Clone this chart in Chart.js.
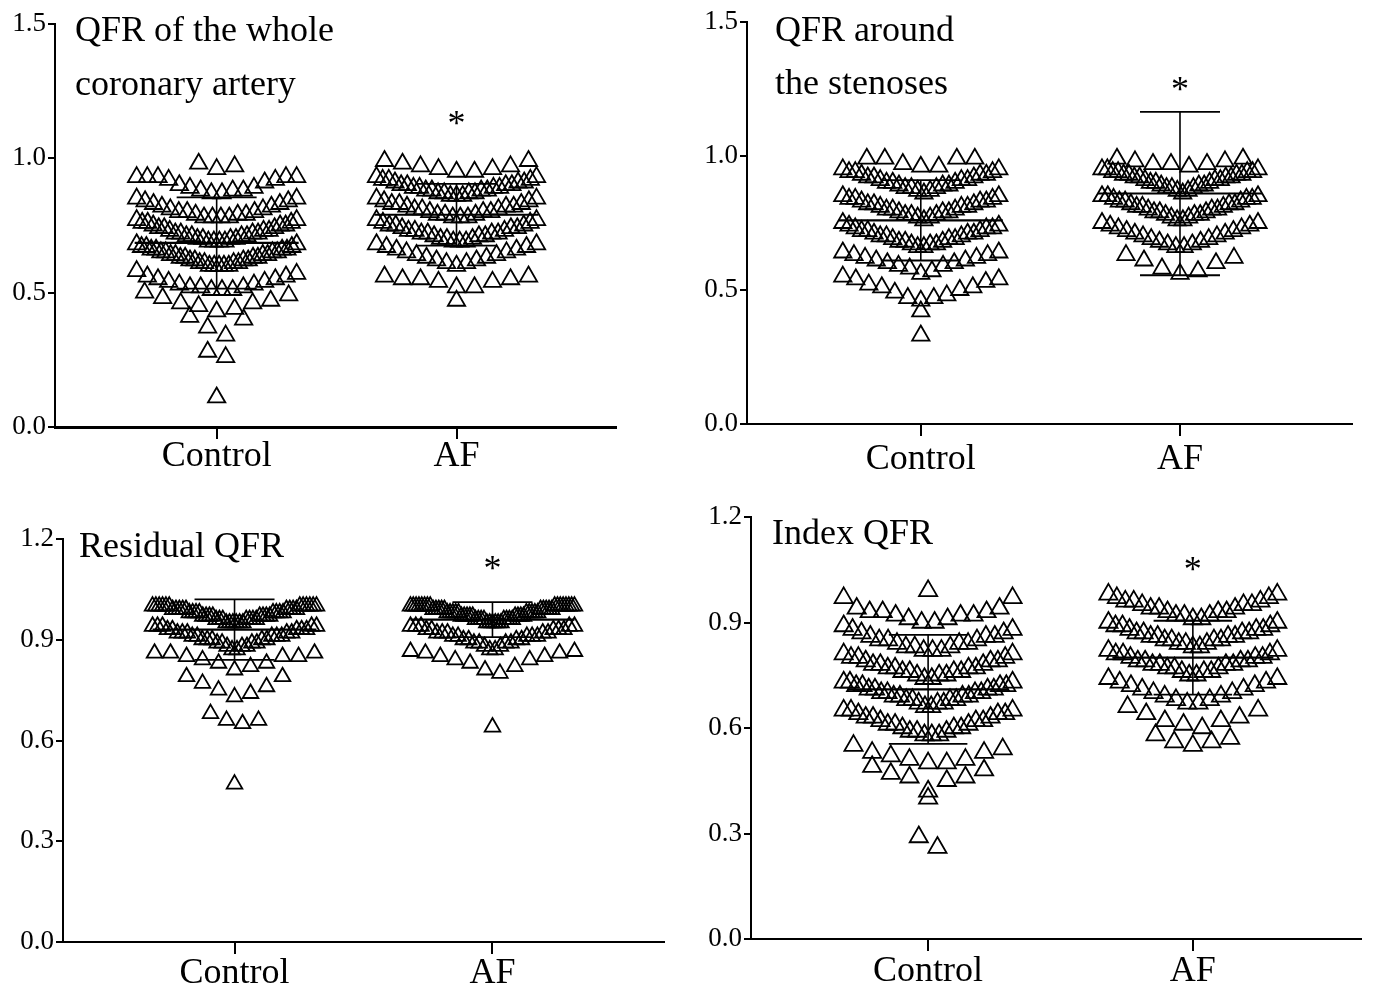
<!DOCTYPE html>
<html>
<head>
<meta charset="utf-8">
<title>QFR scatter plots</title>
<script src="https://cdn.jsdelivr.net/npm/chart.js@4.4.1/dist/chart.umd.min.js"></script>
<style>
  html, body { margin: 0; padding: 0; background: #fff; }
  #wrap { position: relative; width: 1373px; height: 987px; overflow: hidden; }
  canvas { position: absolute; }
</style>
</head>
<body>
<div id="wrap">
  <canvas id="whole" width="686" height="493" style="left:0;top:0"></canvas>
  <canvas id="stenosis" width="687" height="493" style="left:686px;top:0"></canvas>
  <canvas id="residual" width="686" height="494" style="left:0;top:493px"></canvas>
  <canvas id="index" width="687" height="494" style="left:686px;top:493px"></canvas>
</div>
<script>
const categories = ['Control', 'AF'];

// QFR of the whole coronary artery
const wholeControl = [
  0.98, 0.97, 0.96,
  0.93, 0.93, 0.93, 0.93, 0.93, 0.92, 0.92, 0.91, 0.90, 0.89, 0.89, 0.88, 0.88, 0.88, 0.87, 0.87,
  0.85, 0.85, 0.84, 0.84, 0.83, 0.83, 0.82, 0.82, 0.81, 0.81, 0.80, 0.80, 0.80, 0.79, 0.79, 0.79, 0.78, 0.78, 0.78, 0.78,
  0.77, 0.77, 0.76, 0.76, 0.76, 0.75, 0.75, 0.75, 0.74, 0.74, 0.74, 0.73, 0.73, 0.73, 0.72, 0.72, 0.72, 0.72,
  0.71, 0.71, 0.71, 0.71, 0.70, 0.70, 0.70, 0.70, 0.69, 0.69, 0.69, 0.69,
  0.68, 0.68, 0.67, 0.67, 0.67, 0.66, 0.66, 0.66, 0.66, 0.65, 0.65, 0.65, 0.65, 0.64, 0.64, 0.64, 0.64,
  0.63, 0.63, 0.63, 0.63, 0.62, 0.62, 0.62, 0.62, 0.61, 0.61, 0.61, 0.61, 0.60, 0.60, 0.60, 0.60, 0.60,
  0.58, 0.57, 0.56, 0.56, 0.55, 0.55, 0.54, 0.54, 0.53, 0.53, 0.52, 0.52, 0.52, 0.51, 0.51, 0.51,
  0.50, 0.49, 0.48, 0.47, 0.46, 0.46, 0.45, 0.44, 0.43,
  0.41, 0.40, 0.37, 0.34, 0.28, 0.26, 0.11
];
const wholeAF = [
  0.99, 0.99, 0.98, 0.97, 0.97, 0.96, 0.96, 0.95, 0.95,
  0.93, 0.93, 0.92, 0.92, 0.92, 0.91, 0.91, 0.91, 0.90, 0.90, 0.90, 0.90, 0.89, 0.89, 0.89, 0.89,
  0.88, 0.88, 0.88, 0.88, 0.87, 0.87, 0.87, 0.87, 0.86, 0.86, 0.86,
  0.85, 0.85, 0.84, 0.84, 0.83, 0.83, 0.83, 0.82, 0.82, 0.82, 0.81, 0.81, 0.81, 0.80, 0.80, 0.80,
  0.79, 0.79, 0.79, 0.78, 0.78, 0.78, 0.77, 0.77,
  0.76, 0.76, 0.75, 0.75, 0.75, 0.74, 0.74, 0.74, 0.73, 0.73, 0.73, 0.72, 0.72, 0.72, 0.72,
  0.71, 0.71, 0.71, 0.70, 0.70, 0.70, 0.69, 0.69, 0.69,
  0.68, 0.68, 0.67, 0.67, 0.66, 0.66, 0.65, 0.65, 0.64, 0.64, 0.63, 0.63, 0.62, 0.62, 0.61, 0.61, 0.60,
  0.56, 0.56, 0.55, 0.55, 0.55, 0.54, 0.54, 0.52, 0.52, 0.47
];
const wholeMean = [0.685, 0.79];
const wholeSD = [0.17, 0.115];
const wholeStar = 1.15;
const wholeTitle = ['QFR of the whole', 'coronary artery'];
const wholeTicks = [0, 0.5, 1.0, 1.5];

// QFR around the stenoses
const stenosisControl = [
  0.99, 0.99, 0.99, 0.99, 0.97, 0.96, 0.96,
  0.95, 0.95, 0.94, 0.94, 0.94, 0.93, 0.93, 0.93, 0.92, 0.92, 0.92, 0.91, 0.91, 0.91,
  0.90, 0.90, 0.90, 0.89, 0.89, 0.89, 0.88, 0.88, 0.88, 0.87, 0.87, 0.86,
  0.85, 0.85, 0.84, 0.84, 0.84, 0.83, 0.83, 0.83, 0.82, 0.82, 0.82, 0.81, 0.81, 0.81,
  0.80, 0.80, 0.80, 0.79, 0.79, 0.79, 0.78, 0.78, 0.78, 0.77, 0.77, 0.76,
  0.75, 0.74, 0.74, 0.73, 0.73, 0.73, 0.72, 0.72, 0.72, 0.71, 0.71, 0.71, 0.70, 0.70, 0.70,
  0.69, 0.69, 0.69, 0.68, 0.68, 0.68, 0.67, 0.67, 0.67, 0.66, 0.66,
  0.64, 0.64, 0.63, 0.63, 0.62, 0.62, 0.61, 0.61, 0.60, 0.60, 0.59, 0.59, 0.58, 0.57, 0.56,
  0.55, 0.54, 0.54, 0.53, 0.52, 0.51, 0.51, 0.50, 0.49, 0.48, 0.47, 0.47, 0.46,
  0.42, 0.33
];
const stenosisAF = [
  0.99, 0.99, 0.98, 0.98, 0.97, 0.97, 0.97, 0.96,
  0.95, 0.95, 0.95, 0.94, 0.94, 0.94, 0.94, 0.93, 0.93, 0.93, 0.93, 0.92, 0.92, 0.92, 0.92,
  0.91, 0.91, 0.91, 0.90, 0.90, 0.90, 0.89, 0.89, 0.89, 0.88, 0.88, 0.88, 0.87, 0.87, 0.86,
  0.85, 0.85, 0.85, 0.84, 0.84, 0.84, 0.83, 0.83, 0.83, 0.82, 0.82, 0.82, 0.81, 0.81, 0.81,
  0.80, 0.80, 0.80, 0.79, 0.79, 0.79, 0.78, 0.78, 0.78, 0.77, 0.77, 0.76, 0.76,
  0.75, 0.75, 0.74, 0.74, 0.73, 0.73, 0.72, 0.72, 0.71, 0.71, 0.70, 0.70, 0.69, 0.69, 0.68, 0.68,
  0.67, 0.67, 0.66, 0.66,
  0.63, 0.62, 0.61, 0.60, 0.58, 0.57, 0.56
];
const stenosisMean = [0.76, 0.86];
const stenosisSD = [0.15, 0.305];
const stenosisStar = 1.27;
const stenosisTitle = ['QFR around', 'the stenoses'];
const stenosisTicks = [0, 0.5, 1.0, 1.5];

// Residual QFR
const residualControl = [
  1.00, 1.00, 1.00, 1.00, 1.00, 1.00, 1.00, 1.00, 1.00, 1.00, 1.00, 1.00,
  0.99, 0.99, 0.99, 0.99, 0.99, 0.99, 0.99, 0.99, 0.99,
  0.98, 0.98, 0.98, 0.98, 0.98, 0.98, 0.98, 0.98,
  0.97, 0.97, 0.97, 0.97, 0.97, 0.97, 0.97, 0.97,
  0.96, 0.96, 0.96, 0.96, 0.96, 0.96, 0.96, 0.95, 0.95, 0.95, 0.95, 0.95, 0.95,
  0.94, 0.94, 0.94, 0.94, 0.94, 0.93, 0.93, 0.93, 0.93, 0.93, 0.92, 0.92, 0.92, 0.92, 0.92,
  0.91, 0.91, 0.91, 0.91, 0.91, 0.90, 0.90, 0.90, 0.90, 0.90, 0.89, 0.89, 0.89, 0.89,
  0.88, 0.88, 0.88, 0.87, 0.87,
  0.86, 0.86, 0.86, 0.85, 0.85, 0.85, 0.84, 0.83, 0.83, 0.82, 0.81,
  0.79, 0.79, 0.77, 0.76, 0.75, 0.74, 0.73,
  0.68, 0.66, 0.66, 0.65,
  0.47
];
const residualAF = [
  1.00, 1.00, 1.00, 1.00, 1.00, 1.00, 1.00, 1.00, 1.00, 1.00, 1.00, 1.00, 1.00, 1.00, 1.00, 1.00,
  0.99, 0.99, 0.99, 0.99, 0.99, 0.99, 0.99, 0.99, 0.99, 0.99,
  0.98, 0.98, 0.98, 0.98, 0.98, 0.98, 0.98, 0.98, 0.98, 0.98,
  0.97, 0.97, 0.97, 0.97, 0.97, 0.97, 0.97, 0.97, 0.97,
  0.96, 0.96, 0.96, 0.96, 0.96, 0.96, 0.96, 0.96, 0.95, 0.95, 0.95, 0.95, 0.95, 0.95,
  0.94, 0.94, 0.94, 0.94, 0.94, 0.93, 0.93, 0.93, 0.93, 0.93, 0.92, 0.92, 0.92, 0.92, 0.92,
  0.91, 0.91, 0.91, 0.91, 0.91, 0.90, 0.90, 0.90, 0.90, 0.89, 0.89, 0.89, 0.89,
  0.88, 0.88, 0.87, 0.87,
  0.865, 0.865, 0.86, 0.86, 0.85, 0.85, 0.84, 0.84, 0.83, 0.82, 0.81, 0.80,
  0.64
];
const residualMean = [0.93, 0.96];
const residualSD = [0.09, 0.052];
const residualStar = 1.13;
const residualTitle = ['Residual QFR'];
const residualTicks = [0, 0.3, 0.6, 0.9, 1.2];

// Index QFR
const indexControl = [
  0.99,
  0.97, 0.97, 0.94, 0.94, 0.93, 0.93, 0.93, 0.92, 0.92, 0.92, 0.91, 0.91, 0.90, 0.90,
  0.89, 0.88, 0.88, 0.87, 0.87, 0.86, 0.86, 0.86, 0.85, 0.85, 0.85, 0.84, 0.84, 0.84,
  0.83, 0.83, 0.83, 0.82, 0.82, 0.82,
  0.81, 0.81, 0.80, 0.80, 0.80, 0.79, 0.79, 0.79, 0.78, 0.78, 0.78, 0.77, 0.77, 0.77, 0.77,
  0.76, 0.76, 0.76, 0.76, 0.75, 0.75, 0.75, 0.74, 0.74,
  0.73, 0.73, 0.73, 0.72, 0.72, 0.72, 0.72, 0.71, 0.71, 0.71, 0.71, 0.70, 0.70, 0.70, 0.70,
  0.69, 0.69, 0.69, 0.69, 0.68, 0.68, 0.68, 0.68, 0.67, 0.67, 0.67, 0.66, 0.66,
  0.65, 0.65, 0.65, 0.64, 0.64, 0.64, 0.63, 0.63, 0.63, 0.62, 0.62, 0.62,
  0.61, 0.61, 0.61, 0.60, 0.60, 0.60, 0.59, 0.59, 0.59, 0.58, 0.58, 0.58,
  0.55, 0.54, 0.53, 0.53, 0.52, 0.51, 0.51, 0.50, 0.50,
  0.49, 0.48, 0.47, 0.46, 0.46, 0.45, 0.42,
  0.40, 0.29, 0.26
];
const indexAF = [
  0.98, 0.98, 0.97, 0.97, 0.96, 0.96, 0.96, 0.95, 0.95, 0.95, 0.94, 0.94, 0.94,
  0.93, 0.93, 0.93, 0.92, 0.92, 0.92, 0.91, 0.91,
  0.90, 0.90, 0.89, 0.89, 0.89, 0.88, 0.88, 0.88, 0.87, 0.87, 0.87, 0.87,
  0.86, 0.86, 0.86, 0.86, 0.85, 0.85, 0.85, 0.85, 0.84, 0.84, 0.84, 0.83, 0.83,
  0.82, 0.82, 0.81, 0.81, 0.81, 0.80, 0.80, 0.80, 0.79, 0.79, 0.79, 0.79,
  0.78, 0.78, 0.78, 0.78, 0.77, 0.77, 0.77, 0.76, 0.76, 0.76, 0.75, 0.75,
  0.74, 0.74, 0.73, 0.73, 0.72, 0.72, 0.71, 0.71, 0.70, 0.70, 0.69, 0.69, 0.68, 0.68, 0.67, 0.67,
  0.66, 0.65, 0.64, 0.63, 0.62, 0.62, 0.61, 0.60,
  0.58, 0.57, 0.56, 0.56, 0.55
];
const indexMean = [0.71, 0.80];
const indexSD = [0.155, 0.105];
const indexStar = 1.065;
const indexTitle = ['Index QFR'];
const indexTicks = [0, 0.3, 0.6, 0.9, 1.2];

const serif = "'Liberation Serif', 'Times New Roman', serif";

// layout of each panel: padding round the plot, x range, swarm settings, title offsets
const panels = [
  { canvas: 'whole', ctrl: wholeControl, af: wholeAF, mean: wholeMean, sd: wholeSD, star: wholeStar,
    title: wholeTitle, ticks: wholeTicks, yMax: 1.5, labelPad: -4, xBorder: 3,
    pad: { left: 55, top: 24, right: 70, bottom: 66 }, xMin: 0.326, xMax: 2.665,
    binW: 0.0867, binBase: [0.51, 0.51], r: 10, gap: 18, half: 80, titleX: 20, titleY: [8, 62] },
  { canvas: 'stenosis', ctrl: stenosisControl, af: stenosisAF, mean: stenosisMean, sd: stenosisSD, star: stenosisStar,
    title: stenosisTitle, ticks: stenosisTicks, yMax: 1.5, labelPad: 2, xBorder: 2,
    pad: { left: 61, top: 22, right: 21, bottom: 69 }, xMin: 0.3295, xMax: 2.6636,
    binW: 0.1, binBase: [0.455, 0.455], r: 10, gap: 18, half: 78, titleX: 28, titleY: [10, 63] },
  { canvas: 'residual', ctrl: residualControl, af: residualAF, mean: residualMean, sd: residualSD, star: residualStar,
    title: residualTitle, ticks: residualTicks, yMax: 1.2, labelPad: -2, xBorder: 2,
    pad: { left: 63, top: 46, right: 22, bottom: 45 }, xMin: 0.335, xMax: 2.665,
    binW: 0.075, binBase: [0.87, 0.87], r: 9, gap: 16, half: 82, titleX: 16, titleY: [9] },
  { canvas: 'index', ctrl: indexControl, af: indexAF, mean: indexMean, sd: indexSD, star: indexStar,
    title: indexTitle, ticks: indexTicks, yMax: 1.2, labelPad: -1, xBorder: 2,
    pad: { left: 65, top: 24, right: 1, bottom: 48 }, xMin: 0.331, xMax: 2.634,
    binW: 0.08, binBase: [0.58, 0.59], r: 10.5, gap: 19, half: 86, titleX: 21, titleY: [18] }
];

// Prism-like scatter: values grouped into horizontal rows, highest values on the outside
function swarm(values, center, binW, binBase, gap, half, ppu) {
  const rows = new Map();
  values.forEach(v => {
    const k = Math.floor((v - binBase) / binW + 1e-6);
    if (!rows.has(k)) rows.set(k, []);
    rows.get(k).push(v);
  });
  const pts = [];
  rows.forEach(row => {
    row.sort((a, b) => b - a);
    const n = row.length;
    const step = n > 1 ? Math.min(gap, 2 * half / (n - 1)) : 0;
    let lo = 0, hi = n - 1;
    row.forEach((v, i) => {
      const slot = i % 2 === 0 ? lo++ : hi--;
      const off = (slot - (n - 1) / 2) * step;
      pts.push({ x: center + off / ppu, y: v });
    });
  });
  return pts;
}

function segment(points, width) {
  return { data: points, showLine: true, pointRadius: 0, borderColor: '#000',
           borderWidth: width, order: 0 };
}

function summary(c, mean, sd, ppu) {
  const m = 82 / ppu, h = 40 / ppu;
  return [
    segment([{ x: c - m, y: mean }, { x: c + m, y: mean }], 2.2),
    segment([{ x: c - h, y: mean + sd }, { x: c + h, y: mean + sd }], 1.8),
    segment([{ x: c - h, y: mean - sd }, { x: c + h, y: mean - sd }], 1.8),
    segment([{ x: c, y: mean - sd }, { x: c, y: mean + sd }], 1.6)
  ];
}

const annotate = {
  id: 'annotate',
  afterDraw(chart, args, opts) {
    const { ctx, chartArea } = chart;
    ctx.save();
    ctx.fillStyle = '#000';
    ctx.textBaseline = 'middle';
    ctx.textAlign = 'left';
    ctx.font = '36px ' + serif;
    opts.lines.forEach((line, i) => {
      ctx.fillText(line, chartArea.left + opts.dx, chartArea.top + opts.dy[i]);
    });
    ctx.textAlign = 'center';
    ctx.textBaseline = 'alphabetic';
    ctx.font = '36px ' + serif;
    const x = chart.scales.x.getPixelForValue(2);
    const y = chart.scales.y.getPixelForValue(opts.star);
    ctx.fillText('*', x, y + 17);
    ctx.restore();
  }
};

panels.forEach(p => {
  const canvas = document.getElementById(p.canvas);
  const plotW = canvas.width - p.pad.left - p.pad.right;
  const ppu = plotW / (p.xMax - p.xMin);
  const pointSet = (vals, c, base) => ({
    data: swarm(vals, c, p.binW, base, p.gap, p.half, ppu),
    pointStyle: 'triangle',
    pointRadius: p.r,
    pointBorderColor: '#000',
    pointBorderWidth: 1.8,
    pointBackgroundColor: 'rgba(0,0,0,0)',
    order: 1
  });
  const datasets = [
    ...summary(1, p.mean[0], p.sd[0], ppu),
    ...summary(2, p.mean[1], p.sd[1], ppu),
    pointSet(p.ctrl, 1, p.binBase[0]),
    pointSet(p.af, 2, p.binBase[1])
  ];

  new Chart(canvas, {
    type: 'scatter',
    data: { datasets },
    plugins: [annotate],
    options: {
      responsive: false,
      animation: false,
      events: [],
      layout: { padding: { left: 0, top: p.pad.top, right: p.pad.right, bottom: 0 } },
      plugins: {
        legend: { display: false },
        tooltip: { enabled: false },
        annotate: { lines: p.title, dx: p.titleX, dy: p.titleY, star: p.star }
      },
      scales: {
        x: {
          type: 'linear', min: p.xMin, max: p.xMax,
          afterBuildTicks: s => { s.ticks = [{ value: 1 }, { value: 2 }]; },
          afterFit: s => { s.height = p.pad.bottom; },
          ticks: {
            color: '#000', padding: p.labelPad, maxRotation: 0,
            font: { family: serif, size: 36 },
            callback: v => categories[Math.round(v) - 1]
          },
          grid: { drawOnChartArea: false, color: '#000', lineWidth: 2, tickLength: 12 },
          border: { color: '#000', width: p.xBorder }
        },
        y: {
          min: 0, max: p.yMax,
          afterBuildTicks: s => { s.ticks = p.ticks.map(v => ({ value: v })); },
          afterFit: s => { s.width = p.pad.left; },
          ticks: {
            color: '#000', padding: 2,
            font: { family: serif, size: 27 },
            callback: v => v.toFixed(1)
          },
          grid: { drawOnChartArea: false, color: '#000', lineWidth: 2, tickLength: 7 },
          border: { color: '#000', width: 2 }
        }
      }
    }
  });
});
</script>
</body>
</html>
